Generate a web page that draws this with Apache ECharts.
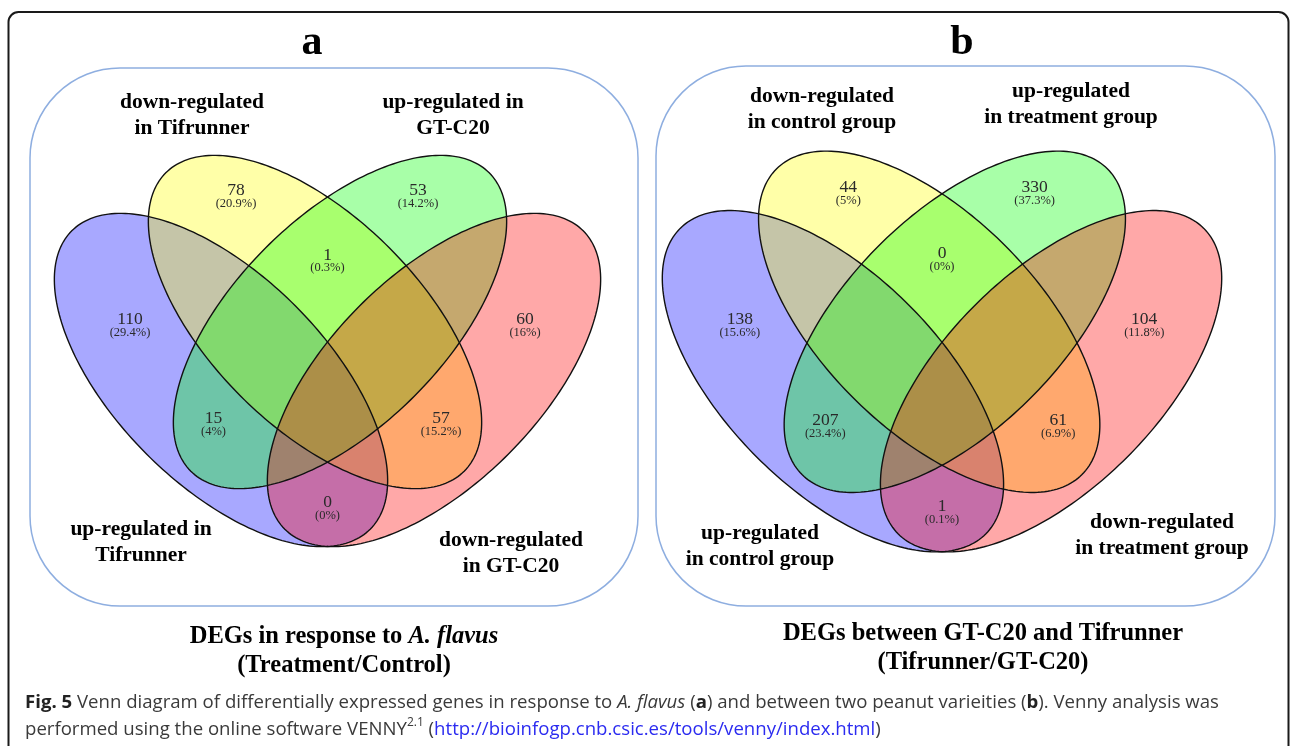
<!DOCTYPE html>
<html>
<head>
<meta charset="utf-8">
<script src="https://cdn.jsdelivr.net/npm/echarts@6/dist/echarts.min.js"></script>
<style>
  html, body { margin: 0; padding: 0; background: #ffffff; }
  #chart { width: 1292px; height: 746px; }
</style>
</head>
<body>
<div id="chart"></div>
<script>
// ---- Region values (order: set1 only, set2 only, set3 only, set4 only,
//      set2∩set3, set1∩set3, set2∩set4, set1∩set4) ----
const countsA = [110, 78, 53, 60, 1, 15, 57, 0];
const percentA = ['29.4%', '20.9%', '14.2%', '16%', '0.3%', '4%', '15.2%', '0%'];
const countsB = [138, 44, 330, 104, 0, 207, 61, 1];
const percentB = ['15.6%', '5%', '37.3%', '11.8%', '0%', '23.4%', '6.9%', '0.1%'];

// Set names (set1 blue, set2 yellow, set3 green, set4 red)
const setNamesA = ['up-regulated in\nTifrunner', 'down-regulated\nin Tifrunner', 'up-regulated in\nGT-C20', 'down-regulated\nin GT-C20'];
const setNamesB = ['up-regulated\nin control group', 'down-regulated\nin control group', 'up-regulated\nin treatment group', 'down-regulated\nin treatment group'];

// ---- Four-ellipse layout in diagram units (y up, origin at centre) ----
const ELLIPSES = [
  { cx: -106.5, cy: -28.5, rx: 211, ry: 105, rot: -45, color: '#0000ff' },
  { cx: -12.5,  cy: 29.5,  rx: 211, ry: 105, rot: -45, color: '#ffff00' },
  { cx: 12.5,   cy: 29.5,  rx: 211, ry: 105, rot: 45,  color: '#00ff00' },
  { cx: 106.5,  cy: -28.5, rx: 211, ry: 105, rot: 45,  color: '#ff0000' }
];
// label anchor of each region, same order as the value arrays
const REGION_ANCHORS = [
  [-197.5, 26], [-91.5, 155], [90.5, 155], [197.5, 26],
  [0, 90.5], [-114, -73], [113.5, -73], [0, -157]
];

const SERIF = '"Liberation Serif", "Times New Roman", "DejaVu Serif", serif';
const SANS = '"Open Sans", "Noto Sans", sans-serif';

function ellipsePoints(e, api) {
  const phi = e.rot * Math.PI / 180;
  const pts = [];
  const n = 240;
  for (let i = 0; i < n; i++) {
    const t = i / n * Math.PI * 2;
    const x = e.cx + e.rx * Math.cos(t) * Math.cos(phi) - e.ry * Math.sin(t) * Math.sin(phi);
    const y = e.cy + e.rx * Math.cos(t) * Math.sin(phi) + e.ry * Math.sin(t) * Math.cos(phi);
    pts.push(api.coord([x, y]));
  }
  return pts;
}

function ellipseSeries(gridIdx, outline) {
  return {
    type: 'custom',
    xAxisIndex: gridIdx,
    yAxisIndex: gridIdx,
    silent: true,
    clip: false,
    z: outline ? 3 : 2,
    data: ELLIPSES.map((e, i) => [e.cx, e.cy, i]),
    encode: { x: 0, y: 1 },
    renderItem: function (params, api) {
      const e = ELLIPSES[api.value(2)];
      const pts = ellipsePoints(e, api);
      if (outline) {
        return { type: 'polygon', shape: { points: pts },
          style: { fill: 'none', stroke: '#111111', lineWidth: 1.4 } };
      }
      return { type: 'polygon', shape: { points: pts },
        style: { fill: e.color, opacity: 0.34 } };
    }
  };
}

function labelSeries(gridIdx, counts, percents) {
  return {
    type: 'custom',
    xAxisIndex: gridIdx,
    yAxisIndex: gridIdx,
    silent: true,
    clip: false,
    z: 4,
    data: REGION_ANCHORS.map((a, i) => [a[0], a[1], counts[i]]),
    encode: { x: 0, y: 1 },
    renderItem: function (params, api) {
      const p = api.coord([api.value(0), api.value(1)]);
      return {
        type: 'text', x: p[0], y: p[1],
        style: {
          text: '{n|' + api.value(2) + '}\n{p|(' + percents[params.dataIndex] + ')}',
          align: 'center', verticalAlign: 'middle',
          rich: {
            n: { fontFamily: SERIF, fontSize: 17.5, lineHeight: 14, fill: '#2a2a2a', align: 'center' },
            p: { fontFamily: SERIF, fontSize: 12.5, lineHeight: 12, fill: '#2a2a2a', align: 'center' }
          }
        }
      };
    }
  };
}

function setLabel(text, x, y) {
  return {
    type: 'text', x: x, y: y, silent: true, z: 10,
    style: {
      text: text, align: 'center', verticalAlign: 'middle',
      font: 'bold 21.5px ' + SERIF, lineHeight: 26, fill: '#000000'
    }
  };
}

const chart = echarts.init(document.getElementById('chart'), null, { renderer: 'canvas' });

const option = {
  backgroundColor: '#ffffff',
  animation: false,
  grid: [
    { left: 27.5, top: 131.5, width: 600, height: 440 },
    { left: 634.8, top: 126.7, width: 614.4, height: 450.6 }
  ],
  xAxis: [
    { gridIndex: 0, type: 'value', min: -300, max: 300, show: false },
    { gridIndex: 1, type: 'value', min: -300, max: 300, show: false }
  ],
  yAxis: [
    { gridIndex: 0, type: 'value', min: -220, max: 220, show: false },
    { gridIndex: 1, type: 'value', min: -220, max: 220, show: false }
  ],
  series: [
    ellipseSeries(0, false), ellipseSeries(0, true), labelSeries(0, countsA, percentA),
    ellipseSeries(1, false), ellipseSeries(1, true), labelSeries(1, countsB, percentB)
  ],
  graphic: [
    // outer frame
    { type: 'rect', silent: true, z: 0,
      shape: { x: 8.5, y: 12, width: 1280, height: 800, r: 10 },
      style: { fill: 'none', stroke: '#1a1a1a', lineWidth: 2 } },
    // panel boxes
    { type: 'rect', silent: true, z: 1,
      shape: { x: 30, y: 68, width: 608, height: 538, r: 90 },
      style: { fill: 'none', stroke: '#8eaee0', lineWidth: 1.5 } },
    { type: 'rect', silent: true, z: 1,
      shape: { x: 656, y: 66, width: 619, height: 540, r: 90 },
      style: { fill: 'none', stroke: '#8eaee0', lineWidth: 1.5 } },
    // panel letters
    { type: 'text', x: 312, y: 43, silent: true,
      style: { text: 'a', align: 'center', verticalAlign: 'middle', font: 'bold 42px ' + SERIF, fill: '#000' } },
    { type: 'text', x: 962, y: 43, silent: true,
      style: { text: 'b', align: 'center', verticalAlign: 'middle', font: 'bold 42px ' + SERIF, fill: '#000' } },
    // set names, panel a
    setLabel(setNamesA[1], 192, 115),
    setLabel(setNamesA[2], 453, 115),
    setLabel(setNamesA[0], 141, 542),
    setLabel(setNamesA[3], 511, 553),
    // set names, panel b
    setLabel(setNamesB[1], 822, 109),
    setLabel(setNamesB[2], 1071, 104.5),
    setLabel(setNamesB[0], 760, 546),
    setLabel(setNamesB[3], 1162, 535),
    // panel captions
    { type: 'text', x: 344, y: 651, silent: true,
      style: {
        text: '{b|DEGs in response to }{i|A. flavus}\n{b|(Treatment/Control)}',
        align: 'center', verticalAlign: 'middle',
        rich: {
          b: { font: 'bold 24.5px ' + SERIF, lineHeight: 29, fill: '#000' },
          i: { font: 'italic bold 24.5px ' + SERIF, lineHeight: 29, fill: '#000' }
        }
      } },
    { type: 'text', x: 983, y: 648, silent: true,
      style: {
        text: '{b|DEGs between GT-C20 and Tifrunner}\n{b|(Tifrunner/GT-C20)}',
        align: 'center', verticalAlign: 'middle',
        rich: { b: { font: 'bold 24.5px ' + SERIF, lineHeight: 29, fill: '#000' } }
      } },
    // figure caption
    { type: 'text', x: 25, y: 689.5, silent: true,
      style: {
        text: '{b|Fig. 5}{r| Venn diagram of differentially expressed genes in response to }{i|A. flavus}{r| (}{b|a}{r|) and between two peanut varieities (}{b|b}{r|). Venny analysis was}\n' +
              '{r|performed using the online software VENNY}{s|2.1}{r| (}{l|http://bioinfogp.cnb.csic.es/tools/venny/index.html}{r|)}',
        align: 'left', verticalAlign: 'top',
        rich: {
          r: { font: '18.6px ' + SANS, lineHeight: 27, fill: '#3a3a3a' },
          b: { font: 'bold 18.6px ' + SANS, lineHeight: 27, fill: '#222222' },
          i: { font: 'italic 18.6px ' + SANS, lineHeight: 27, fill: '#3a3a3a' },
          s: { font: '12px ' + SANS, lineHeight: 13, verticalAlign: 'top', fill: '#3a3a3a' },
          l: { font: '18.6px ' + SANS, lineHeight: 27, fill: '#2b2bf0' }
        }
      } }
  ]
};

chart.setOption(option);
</script>
</body>
</html>
